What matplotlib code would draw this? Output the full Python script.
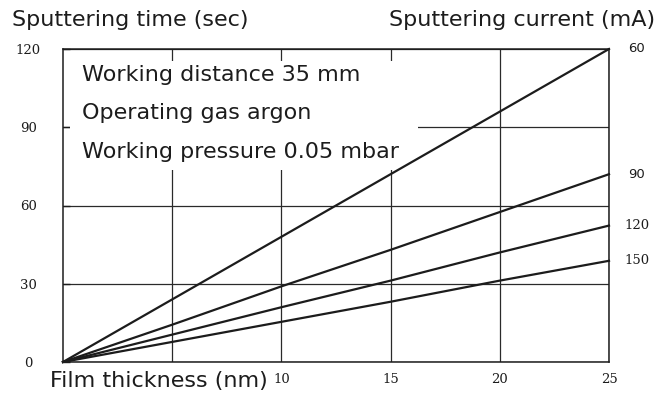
import matplotlib
matplotlib.use("Agg")
import matplotlib.pyplot as plt
from matplotlib.patches import Rectangle

# --- data ---
thickness = [0, 5, 10, 15, 20, 25]          # film thickness (nm)
time_60 = [0, 24, 48, 72, 96, 120]          # sputtering time (sec) at 60 mA
time_90 = [0, 14.3, 29, 43, 57.5, 72]
time_120 = [0, 10.5, 21, 31.2, 42, 52.3]
time_150 = [0, 7.7, 15.4, 23.1, 31.2, 38.8]
currents = ["60", "90", "120", "150"]

y_ticks = [0, 30, 60, 90, 120]
x_ticks = [5, 10, 15, 20, 25]
x_ticklabels = ["", "10", "15", "20", "25"]

notes = ["Working distance 35 mm", "Operating gas argon", "Working pressure 0.05 mbar"]

ink = "#1c1c1c"
sans = "DejaVu Sans"
serif = "DejaVu Serif"

fig = plt.figure(figsize=(6.69, 3.96), dpi=100)
ax = fig.add_axes([63 / 669, 34 / 396, 546 / 669, 313 / 396])

ax.set_xlim(0, 25)
ax.set_ylim(0, 120)
ax.set_axisbelow(True)
ax.grid(True, color="#2a2a2a", linewidth=0.9)

for s in ax.spines.values():
    s.set_color(ink)
    s.set_linewidth(1.1)

# --- curves ---
series = [time_60, time_90, time_120, time_150]
label_font = [sans, sans, serif, serif]
for vals, cur, fam in zip(series, currents, label_font):
    ax.plot(thickness, vals, color=ink, linewidth=1.6, zorder=3, clip_on=False)
    ax.annotate(cur, xy=(thickness[-1], vals[-1]), xytext=(20, 0),
                textcoords="offset points", ha="center", va="center",
                fontsize=9.5, family=fam, color=ink)

# white panel behind the notes (hides grid there)
ax.add_patch(Rectangle((0.012, 0.613), 0.638, 0.349, transform=ax.transAxes,
                       facecolor="white", edgecolor="none", zorder=1))
for note, yy in zip(notes, [0.917, 0.796, 0.671]):
    ax.text(0.035, yy, note, transform=ax.transAxes, fontsize=16,
            family=sans, color=ink, va="center", ha="left", zorder=2)

# --- ticks ---
ax.set_xticks(x_ticks)
ax.set_xticklabels(x_ticklabels, family=serif, fontsize=9.5, color=ink)
ax.tick_params(axis="x", length=0, pad=8)

ax.set_yticks(y_ticks)
ax.set_yticklabels([str(v) for v in y_ticks], family=serif, fontsize=9.5,
                   color=ink, ha="center")
ax.tick_params(axis="y", direction="in", length=5, width=1, color=ink, pad=25)

ax.text(-0.024, -0.061, "Film thickness (nm)", transform=ax.transAxes,
        fontsize=16, family=sans, color=ink, ha="left", va="center")

fig.text(12 / 669, 1 - 20 / 396, "Sputtering time (sec)", fontsize=16,
         family=sans, color=ink, ha="left", va="center")
fig.text(655 / 669, 1 - 20 / 396, "Sputtering current (mA)", fontsize=16,
         family=sans, color=ink, ha="right", va="center")

fig.savefig("out.png", dpi=100, facecolor="white")
